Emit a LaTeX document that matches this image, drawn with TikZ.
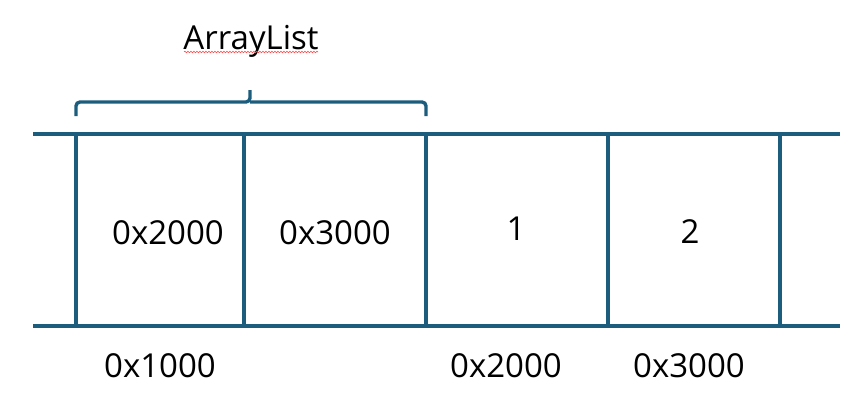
\documentclass[tikz,border=0pt]{standalone}
\usepackage{fontspec}
\setmainfont{Open Sans}
\usetikzlibrary{decorations.pathmorphing}
\definecolor{edge}{RGB}{28,92,125}
\tikzset{
  wall/.style={draw=edge, line width=3.4pt},
  lbl/.style={anchor=base, inner sep=0pt, font=\fontsize{33}{40}\selectfont, text=black},
}
\begin{document}
\begin{tikzpicture}[x=1pt,y=-1pt]
\useasboundingbox (0,0) rectangle (862,405);
% rails
\coordinate (tl) at (33,134); \coordinate (tr) at (840,134);
\coordinate (bl) at (33,326); \coordinate (br) at (840,326);
\draw[wall] (tl) -- (tr);
\draw[wall] (bl) -- (br);
% cell walls
\foreach \x/\n in {76/a,244/b,426/c,608/d,780/e}{
  \coordinate (\n t) at (\x,134); \coordinate (\n b) at (\x,326);
  \draw[wall] (\n t) -- (\n b);
}
% brace
\coordinate (br1) at (76,116); \coordinate (br2) at (426,116);
\coordinate (tip) at (250,90);
\draw[wall, rounded corners=4pt] (br1) -- (76,102) -- (250,102) -- (tip);
\draw[wall, rounded corners=4pt] (250,102) -- (426,102) -- (br2);
% texts
\node[lbl] (title) at (251,49) {ArrayList};
\draw[red!70, line width=0.6pt, decorate, decoration={snake, amplitude=0.8pt, segment length=3pt}] (184,52) -- (318,52);
\node[lbl] (v1) at (168,244) {0x2000};
\node[lbl] (v2) at (335,244) {0x3000};
\node[lbl] (v3) at (516,240) {1};
\node[lbl] (v4) at (690,243) {2};
\node[lbl] (a1) at (160,377) {0x1000};
\node[lbl] (a2) at (506,377) {0x2000};
\node[lbl] (a3) at (689,377) {0x3000};
\end{tikzpicture}
\end{document}
